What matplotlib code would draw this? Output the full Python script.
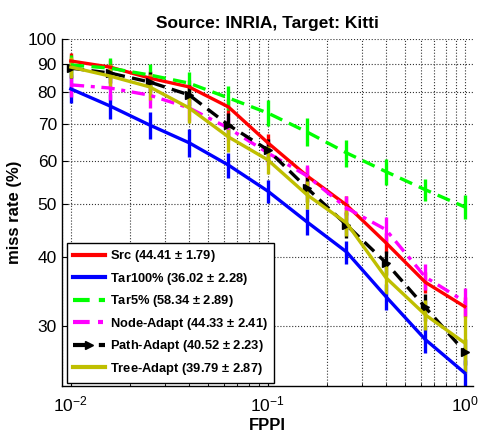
import matplotlib
matplotlib.use('Agg')
import matplotlib.pyplot as plt
from matplotlib.ticker import FixedLocator, FixedFormatter, LogLocator, NullFormatter, NullLocator

# datos
fppi = [0.01, 0.0158, 0.0251, 0.0398, 0.0631, 0.1, 0.158, 0.251, 0.398, 0.631, 1.0]

src = [91.2, 88.9, 84.9, 81.8, 75.2, 64.7, 56.3, 49.8, 42.5, 36.0, 32.5]
src_err = [3.0, 2.8, 2.6, 2.5, 2.5, 2.5, 2.2, 2.0, 1.8, 1.6, 1.4]

tar100 = [81.1, 75.5, 69.7, 64.7, 58.9, 52.8, 46.4, 40.9, 33.9, 28.3, 24.6]
tar100_err = [4.5, 4.0, 4.0, 3.8, 3.0, 2.5, 2.5, 2.0, 1.8, 1.6, 1.4]

tar5 = [89.7, 88.5, 86.0, 83.1, 78.1, 73.3, 67.7, 62.0, 57.3, 53.1, 49.4]
tar5_err = [4.0, 4.0, 4.0, 4.0, 4.0, 4.0, 4.0, 3.5, 3.2, 2.5, 2.5]

node = [82.5, 81.4, 79.0, 74.9, 68.8, 62.0, 56.3, 49.2, 44.9, 36.8, 33.2]
node_err = [4.0, 4.0, 4.0, 4.0, 3.5, 3.0, 2.5, 2.5, 2.5, 2.0, 2.0]

path = [88.5, 86.7, 83.5, 79.1, 69.7, 62.8, 53.5, 45.8, 39.1, 32.4, 26.9]
path_err = [3.5, 3.5, 3.5, 3.5, 3.5, 3.0, 3.0, 2.5, 2.0, 1.8, 1.5]

tree = [88.9, 85.6, 81.8, 74.9, 66.3, 60.2, 52.0, 46.2, 36.7, 31.4, 27.9]
tree_err = [4.0, 4.5, 4.5, 4.5, 4.0, 3.5, 3.0, 2.5, 2.5, 2.0, 3.3]

labels = ['Src (44.41 $\\pm$ 1.79)', 'Tar100% (36.02 $\\pm$ 2.28)',
          'Tar5% (58.34 $\\pm$ 2.89)', 'Node-Adapt (44.33 $\\pm$ 2.41)',
          'Path-Adapt (40.52 $\\pm$ 2.23)', 'Tree-Adapt (39.79 $\\pm$ 2.87)']

plt.rcParams['font.family'] = ['Liberation Sans', 'DejaVu Sans']
plt.rcParams['mathtext.fontset'] = 'custom'
plt.rcParams['mathtext.rm'] = 'Liberation Sans'
plt.rcParams['mathtext.bf'] = 'Liberation Sans:bold'
plt.rcParams['mathtext.default'] = 'regular'

fig = plt.figure(figsize=(4.79, 4.34), dpi=100)
ax = fig.add_axes([0.129, 0.111, 0.858, 0.799])

lw = 2.4
series = [
    (src, src_err, '#FF0000', '-', None),
    (tar100, tar100_err, '#0000FF', '-', None),
    (tar5, tar5_err, '#00FF00', (0, (4, 2.2)), None),
    (node, node_err, '#FF00FF', (0, (4, 2, 1.2, 2)), None),
    (path, path_err, '#000000', (0, (4, 2.2)), '>'),
    (tree, tree_err, '#BFBF00', '-', None),
]

handles = []
for (vals, err, col, ls, mk), lab in zip(series, labels):
    ax.errorbar(fppi, vals, yerr=err, color=col, linestyle=ls, linewidth=lw,
                elinewidth=lw, capsize=0, marker=mk, markersize=6,
                markeredgecolor=col, markerfacecolor=col)
    line, = ax.plot([], [], color=col, linestyle=ls, linewidth=lw + 0.6,
                    marker=mk, markersize=6, label=lab)
    handles.append(line)

ax.set_xscale('log')
ax.set_yscale('log')
ax.set_xlim(10 ** -2.046, 10 ** 0.041)
ax.set_ylim(23.3, 100)

ax.yaxis.set_major_locator(FixedLocator([30, 40, 50, 60, 70, 80, 90, 100]))
ax.yaxis.set_major_formatter(FixedFormatter(['30', '40', '50', '60', '70', '80', '90', '100']))
ax.yaxis.set_minor_locator(NullLocator())
ax.yaxis.set_minor_formatter(NullFormatter())
ax.xaxis.set_major_locator(FixedLocator([0.01, 0.1, 1.0]))
ax.xaxis.set_major_formatter(FixedFormatter(['$10^{-2}$', '$10^{-1}$', '$10^{0}$']))
ax.xaxis.set_minor_locator(LogLocator(base=10, subs=range(2, 10)))
ax.xaxis.set_minor_formatter(NullFormatter())

ax.grid(True, which='major', axis='both', color='#333333', linestyle=':', linewidth=0.8)
ax.grid(True, which='minor', axis='x', color='#333333', linestyle=':', linewidth=0.8)
ax.set_axisbelow(True)

for s in ['top', 'right']:
    ax.spines[s].set_visible(False)
for s in ['left', 'bottom']:
    ax.spines[s].set_linewidth(1.0)

ax.tick_params(which='both', direction='in', top=False, right=False, labelsize=12.5)
ax.tick_params(which='major', length=4)
ax.tick_params(which='minor', length=2.5)
ax.tick_params(axis='x', pad=6)

ax.set_title('Source: INRIA, Target: Kitti', fontsize=12.5, fontweight='bold', pad=8)
ax.set_xlabel('FPPI', fontsize=12, fontweight='bold', labelpad=3)
ax.set_ylabel('miss rate (%)', fontsize=12, fontweight='bold', labelpad=4)

leg = ax.legend(handles=handles, loc='lower left', bbox_to_anchor=(0.005, 0.0),
                prop={'weight': 'bold', 'size': 9.3},
                frameon=True, fancybox=False, edgecolor='black', framealpha=1,
                handlelength=2.5, handletextpad=0.4, labelspacing=0.5,
                borderpad=0.45, borderaxespad=0.25)
leg.get_frame().set_linewidth(1.0)

fig.savefig('out.png', dpi=100)
